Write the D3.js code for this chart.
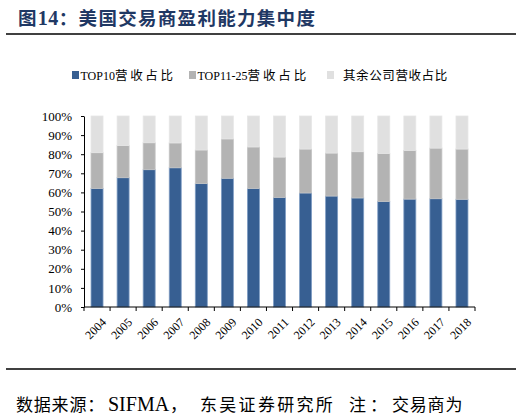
<!DOCTYPE html>
<html>
  <head>
    <meta charset="utf-8" />
    <style>
      body,
      html {
        margin: 0;
        padding: 0;
        background: #fff;
      }
      text {
        font-family: 'Liberation Serif', 'Noto Sans CJK SC', serif;
      }
    </style>
  </head>
  <body>
    <svg id="svg" width="522" height="417"></svg>

    <script src="https://cdn.jsdelivr.net/npm/d3@7"></script>
    <script>
      const years = ['2004', '2005', '2006', '2007', '2008', '2009', '2010', '2011', '2012', '2013', '2014', '2015', '2016', '2017', '2018'];
      const top10 = [62.1, 67.7, 71.9, 72.9, 64.6, 67.4, 62.1, 57.4, 59.7, 58.1, 57.1, 55.3, 56.5, 56.7, 56.4];
      const top11to25 = [18.7, 16.8, 14.1, 13.0, 17.6, 20.6, 21.7, 21.1, 23.0, 22.5, 24.2, 25.1, 25.5, 26.5, 26.3];
      const others = [19.2, 15.5, 14.0, 14.1, 17.8, 12.0, 16.2, 21.5, 17.3, 19.4, 18.7, 19.6, 18.0, 16.8, 17.3];
      const seriesNames = ['TOP10营收占比', 'TOP11-25营收占比', '其余公司营收占比'];
      const yTicks = [0, 10, 20, 30, 40, 50, 60, 70, 80, 90, 100];

      const colors = ['#375f92', '#b3b3b3', '#e0e0e0'];
      const strokes = ['#7f9dc4', '#c4c4c4', '#e6e6e6'];

      const svg = d3.select('#svg');

      // split text into latin / cjk runs so only the cjk gets spaced out
      const richText = (sel, str, opt) => {
        const runs = str.match(/[\x00-\x7F]+|[^\x00-\x7F]+/g);
        sel.selectAll('tspan')
          .data(runs)
          .join('tspan')
          .attr('font-size', (d) => (/^[\x00-\x7F]/.test(d) ? opt.latinSize : opt.cjkSize))
          .attr('letter-spacing', (d) => (/^[\x00-\x7F]/.test(d) ? opt.latinSpacing : opt.cjkSpacing))
          .text((d) => d);
      };

      // title
      const title = svg.append('text')
        .attr('x', 18)
        .attr('y', 25)
        .attr('font-weight', 'bold')
        .attr('fill', '#1f3864');
      richText(title, '图14：美国交易商盈利能力集中度', { cjkSize: 18.5, cjkSpacing: 1.3, latinSize: 20, latinSpacing: 0.5 });
      svg.append('line')
        .attr('x1', 6).attr('x2', 516)
        .attr('y1', 34).attr('y2', 34)
        .attr('stroke', '#000').attr('stroke-width', 1.5);

      const table = years.map((y, i) => ({
        year: y,
        [seriesNames[0]]: top10[i],
        [seriesNames[1]]: top11to25[i],
        [seriesNames[2]]: others[i],
      }));
      const stacked = d3.stack().keys(seriesNames)(table);

      const xScale = d3.scaleBand().domain(years).range([84, 475]).paddingInner(0.54).paddingOuter(0.27);
      const yScale = d3.scaleLinear().domain([0, 100]).range([307, 116]);

      svg.append('g')
        .selectAll('g')
        .data(stacked)
        .join('g')
        .attr('fill', (d, i) => colors[i])
        .attr('stroke', (d, i) => strokes[i])
        .attr('stroke-width', 0.8)
        .selectAll('rect')
        .data((d) => d)
        .join('rect')
        .attr('x', (d) => xScale(d.data.year))
        .attr('width', xScale.bandwidth())
        .attr('y', (d) => yScale(d[1]))
        .attr('height', (d) => yScale(d[0]) - yScale(d[1]));

      // y axis
      const yAxis = svg.append('g')
        .attr('transform', 'translate(84,0)')
        .call(d3.axisLeft(yScale).tickValues(yTicks).tickFormat((d) => d + '%').tickSize(3).tickPadding(9).tickSizeOuter(0));
      yAxis.selectAll('text').attr('font-size', 13).attr('fill', '#000').attr('font-family', 'Liberation Serif');
      yAxis.select('.domain').attr('stroke', '#000');
      yAxis.selectAll('.tick line').attr('stroke', '#000');

      // x axis with ticks at band boundaries
      const xAxisG = svg.append('g').attr('transform', 'translate(0,307)');
      xAxisG.append('line')
        .attr('x1', 84).attr('x2', 475)
        .attr('stroke', '#000');
      const step = xScale.step();
      const boundaries = d3.range(years.length + 1).map((i) => 84 + i * step);
      xAxisG.selectAll('line.tk')
        .data(boundaries)
        .join('line')
        .attr('class', 'tk')
        .attr('x1', (d) => d).attr('x2', (d) => d)
        .attr('y1', 0).attr('y2', 4)
        .attr('stroke', '#000');
      xAxisG.selectAll('text')
        .data(years)
        .join('text')
        .attr('transform', (d) => `translate(${xScale(d) + xScale.bandwidth() / 2 + 4},10) rotate(-45)`)
        .attr('text-anchor', 'end')
        .attr('dy', '0.7em')
        .attr('font-size', 12)
        .attr('fill', '#000')
        .text((d) => d);

      // legend
      const legendX = [72, 189, 327];
      const legendSpacing = [2.7, 2.9, 0.6];
      const legend = svg.append('g')
        .selectAll('g')
        .data(seriesNames)
        .join('g')
        .attr('transform', (d, i) => `translate(${legendX[i]},71)`);
      legend.append('rect')
        .attr('width', 7).attr('height', 8)
        .attr('fill', (d, i) => colors[i]);
      legend.append('text')
        .attr('x', (d, i) => (i === 2 ? 16 : 8.5))
        .attr('y', 8.5)
        .attr('fill', '#000')
        .each(function (d, i) {
          richText(d3.select(this), d, { cjkSize: 12.5, cjkSpacing: legendSpacing[i], latinSize: 12, latinSpacing: 0 });
        });

      // footer
      svg.append('line')
        .attr('x1', 6).attr('x2', 516)
        .attr('y1', 369).attr('y2', 369)
        .attr('stroke', '#000').attr('stroke-width', 1.5);
      const footerParts = [
        { t: '数据来源：', x: 16, latin: false },
        { t: 'SIFMA', x: 108, latin: true },
        { t: '，', x: 170, latin: false },
        { t: '东吴证券研究所', x: 200, latin: false, sp: 2.3 },
        { t: '注：', x: 349, latin: false, sp: 4 },
        { t: '交易商为', x: 392, latin: false },
      ];
      svg.append('text')
        .attr('y', 411)
        .attr('fill', '#000')
        .selectAll('tspan')
        .data(footerParts)
        .join('tspan')
        .attr('x', (d) => d.x)
        .attr('font-size', (d) => (d.latin ? 20 : 17))
        .attr('letter-spacing', (d) => (d.sp !== undefined ? d.sp : d.latin ? 0 : 0.8))
        .text((d) => d.t);
    </script>
  </body>
</html>
